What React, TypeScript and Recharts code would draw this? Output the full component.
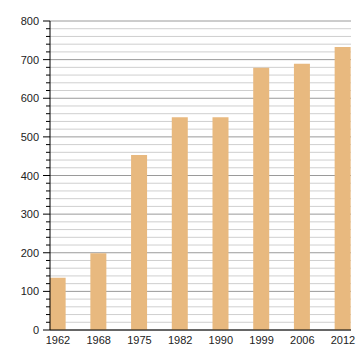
import { BarChart, Bar, XAxis, YAxis, CartesianGrid } from "recharts";

const YEARS = ["1962", "1968", "1975", "1982", "1990", "1999", "2006", "2012"];
const POPULATION = [135, 199, 453, 551, 551, 679, 689, 733];
const Y_TICKS = [0, 100, 200, 300, 400, 500, 600, 700, 800];
const MINOR_TICKS = [
  20, 40, 60, 80, 120, 140, 160, 180, 220, 240, 260, 280, 320, 340, 360, 380,
  420, 440, 460, 480, 520, 540, 560, 580, 620, 640, 660, 680, 720, 740, 760, 780,
];

const data = YEARS.map((year, i) => ({ year, value: POPULATION[i] }));
const allTicks = [...Y_TICKS, ...MINOR_TICKS].sort((a, b) => a - b);

// plot area: top 21, bottom 330
const PLOT_TOP = 21;
const PLOT_BOTTOM = 330;

const YTick = (props: any) => {
  const { y, payload } = props;
  const major = payload.value % 100 === 0;
  return (
    <g>
      <line x1={major ? 43 : 46} x2={50} y1={y} y2={y} stroke="#000" strokeWidth={1} />
      {major && (
        <text x={39} y={y} dy={4} textAnchor="end" fontSize={11} fill="#222">
          {payload.value}
        </text>
      )}
    </g>
  );
};

const GridLine = (props: any) => {
  const { x1, x2, y1, y2 } = props;
  const v = Math.round(((PLOT_BOTTOM - y1) / (PLOT_BOTTOM - PLOT_TOP)) * 800);
  const major = Math.round(v / 20) * 20 % 100 === 0;
  return <line x1={x1} x2={x2} y1={y1} y2={y2} stroke={major ? "#9a9a9a" : "#cfcfcf"} strokeWidth={1} />;
};

const App = () => {
  return (
    <div style={{ position: "absolute", left: 0, top: 0, fontFamily: "'Liberation Sans', Arial, sans-serif" }}>
      <BarChart width={360} height={360} data={data} margin={{ top: PLOT_TOP, right: 9, bottom: 10, left: 0 }}>
        <CartesianGrid vertical={false} horizontal={(p: any) => <GridLine key={p.key ?? p.index} {...p} />} />
        <XAxis
          dataKey="year"
          scale="point"
          padding={{ left: 8, right: 8 }}
          tickLine={false}
          axisLine={{ stroke: "#000" }}
          height={20}
          tick={{ fontSize: 11, fill: "#222" }}
          interval={0}
          dy={-2}
        />
        <YAxis
          domain={[0, 800]}
          ticks={allTicks}
          interval={0}
          width={50}
          tickLine={false}
          axisLine={{ stroke: "#000" }}
          tick={<YTick />}
        />
        <Bar dataKey="value" fill="#e8b97f" barSize={16} isAnimationActive={false} />
      </BarChart>
    </div>
  );
};

export default App;
